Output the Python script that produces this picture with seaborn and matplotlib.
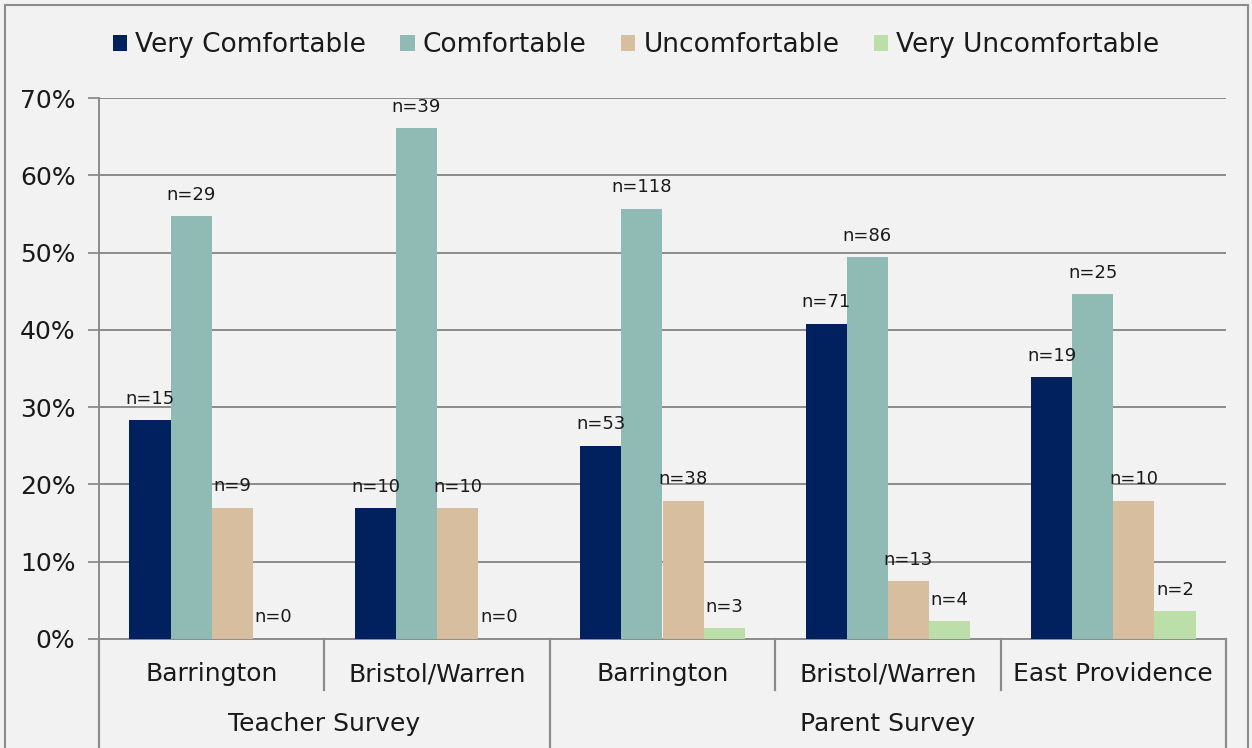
import pandas as pd
import matplotlib
matplotlib.use("Agg")
import matplotlib.pyplot as plt
import matplotlib.transforms as mtransforms
from matplotlib.patches import Patch, Rectangle
from matplotlib.lines import Line2D
import seaborn as sns

# ── Data ──────────────────────────────────────────────────────────────────────
SITES    = ["Barrington", "Bristol/Warren", "Barrington", "Bristol/Warren", "East Providence"]
SURVEYS  = ["Teacher Survey", "Parent Survey"]
SURVEY_SPAN = [2, 3]          # how many sites fall under each survey
SERIES   = ["Very Comfortable", "Comfortable", "Uncomfortable", "Very Uncomfortable"]

very_comf   = [28.3, 16.9, 25.0, 40.8, 33.9]
comf        = [54.7, 66.1, 55.7, 49.4, 44.6]
uncomf      = [17.0, 16.9, 17.9, 7.5, 17.9]
very_uncomf = [0.0, 0.0, 1.4, 2.3, 3.6]

n_very_comf   = [15, 10, 53, 71, 19]
n_comf        = [29, 39, 118, 86, 25]
n_uncomf      = [9, 10, 38, 13, 10]
n_very_uncomf = [0, 0, 3, 4, 2]

COLORS = ["#00205E", "#8FBBB4", "#D7BE9E", "#BCDFAA"]
BG     = "#F2F2F2"
LINE   = "#8C8C8C"
TXT    = "#1A1A1A"

# long-form table for seaborn
keys = [f"g{i}" for i in range(len(SITES))]
rows = []
for s, vals in zip(SERIES, [very_comf, comf, uncomf, very_uncomf]):
    for k, v in zip(keys, vals):
        rows.append({"group": k, "series": s, "pct": v})
df = pd.DataFrame(rows)
counts = [n_very_comf, n_comf, n_uncomf, n_very_uncomf]

# ── Figure ────────────────────────────────────────────────────────────────────
plt.rcParams["font.family"] = ["DejaVu Sans"]
W, H = 1252, 748
fig = plt.figure(figsize=(W / 100, H / 100), dpi=100, facecolor=BG)
ax_l, ax_r, ax_t, ax_b = 99, 1226, 98, 639
ax = fig.add_axes([ax_l / W, 1 - ax_b / H, (ax_r - ax_l) / W, (ax_b - ax_t) / H])
ax.set_facecolor(BG)

sns.barplot(data=df, x="group", y="pct", hue="series", order=keys,
            hue_order=SERIES, palette=COLORS, width=0.73, linewidth=0,
            saturation=1, legend=False, ax=ax, zorder=3)

for cont, ns in zip(ax.containers, counts):
    ax.bar_label(cont, labels=[f"n={n}" for n in ns], padding=9,
                 fontsize=13, color=TXT)

ax.set_xlim(-0.5, len(SITES) - 0.5)
ax.set_ylim(0, 70)
ax.set_yticks(range(0, 71, 10))
ax.set_yticklabels([f"{t}%" for t in range(0, 71, 10)])
ax.tick_params(axis="y", length=8, width=1.3, color=LINE, labelsize=18,
               labelcolor=TXT, pad=9)
ax.tick_params(axis="x", length=0, labelbottom=False)
ax.set_xlabel("")
ax.set_ylabel("")
ax.grid(axis="y", color=LINE, linewidth=1.4, zorder=0)
ax.set_axisbelow(True)
for sp in ["top", "right"]:
    ax.spines[sp].set_visible(False)
for sp in ["left", "bottom"]:
    ax.spines[sp].set_color(LINE)
    ax.spines[sp].set_linewidth(1.4)

# ── Two-level category axis ───────────────────────────────────────────────────
tr = mtransforms.blended_transform_factory(ax.transData, fig.transFigure)
fy = lambda py: 1 - py / H
y0, y_mid, y_end = ax_b, 690, 748

bounds = [i - 0.5 for i in range(len(SITES) + 1)]
outer = [-0.5]
acc = -0.5
for span in SURVEY_SPAN:
    acc += span
    outer.append(acc)
for b in bounds:
    yb = y_end if b in outer else y_mid
    fig.add_artist(Line2D([b, b], [fy(y0), fy(yb)], transform=tr,
                          color=LINE, linewidth=1.6))

for i, site in enumerate(SITES):
    fig.text(i, fy(674), site, transform=tr, ha="center", va="center",
             fontsize=18, color=TXT)
start = -0.5
for survey, span in zip(SURVEYS, SURVEY_SPAN):
    fig.text(start + span / 2, fy(724), survey, transform=tr, ha="center",
             va="center", fontsize=18, color=TXT)
    start += span

# ── Legend ────────────────────────────────────────────────────────────────────
handles = [Patch(facecolor=c, edgecolor="none", label=s) for c, s in zip(COLORS, SERIES)]
fig.legend(handles=handles, loc="center", bbox_to_anchor=(0.508, fy(45)),
           ncol=4, frameon=False, fontsize=19, handlelength=0.55,
           handleheight=0.55, handletextpad=0.3, columnspacing=1.3,
           labelcolor=TXT)

# outer chart border
fig.add_artist(Rectangle((5 / W, -0.05), (W - 9) / W, 1.05 - 5 / H,
                         transform=fig.transFigure, fill=False,
                         edgecolor=LINE, linewidth=1.5))

fig.savefig("out.png", dpi=100, facecolor=BG)
